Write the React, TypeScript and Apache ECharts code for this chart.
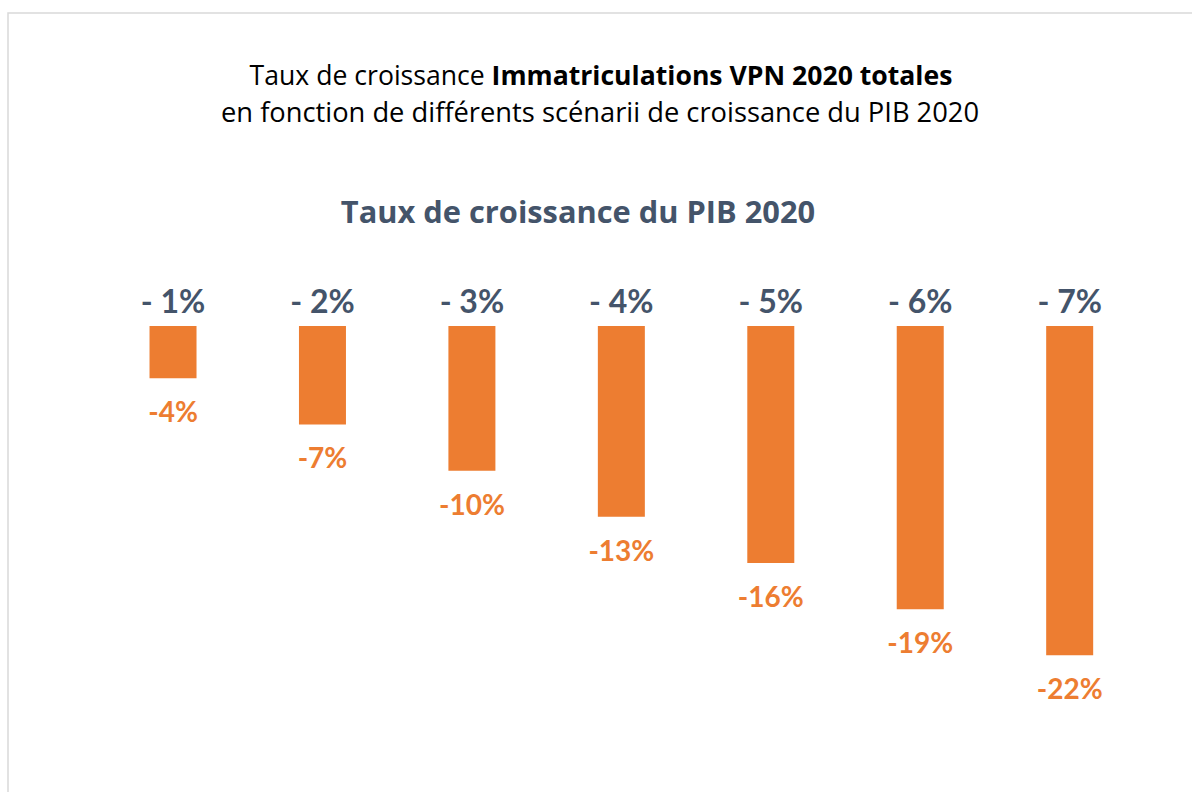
import React, { useEffect, useRef } from "react";
import * as echarts from "echarts";

const categories = ["- 1%", "- 2%", "- 3%", "- 4%", "- 5%", "- 6%", "- 7%"];
const values = [-4, -7, -10, -13, -16, -19, -22];
const titleLine1Regular = "Taux de croissance ";
const titleLine1Bold = "Immatriculations VPN 2020 totales";
const titleLine2 = "en fonction de différents scénarii de croissance du PIB 2020";
const subtitle = "Taux de croissance du PIB 2020";

const FONT = "Lato";
const TFONT = "Open Sans";
const ORANGE = "#ED7D31";
const SLATE = "#44546A";

export default function App() {
  const ref = useRef<HTMLDivElement>(null);
  useEffect(() => {
    if (!ref.current) return;
    const chart = echarts.init(ref.current, null, { renderer: "svg" });
    chart.setOption({
      animation: false,
      backgroundColor: "#ffffff",
      textStyle: { fontFamily: FONT },
      graphic: [
        {
          type: "rect",
          silent: true,
          shape: { x: 8, y: 13, width: 1300, height: 900 },
          style: { fill: "none", stroke: "#D9D9D9", lineWidth: 1.5 },
        },
        {
          type: "text",
          x: 601,
          y: 74.5,
          style: {
            text: "{r|" + titleLine1Regular + "}{b|" + titleLine1Bold + "}",
            align: "center",
            verticalAlign: "middle",
            rich: {
              r: { fontFamily: TFONT, fontSize: 26.6, fill: "#000000", fontWeight: "normal" },
              b: { fontFamily: TFONT, fontSize: 26.6, fill: "#000000", fontWeight: "bold" },
            },
          },
        },
        {
          type: "text",
          x: 600,
          y: 111.5,
          style: {
            text: titleLine2,
            align: "center",
            verticalAlign: "middle",
            fontFamily: TFONT,
            fontSize: 27.3,
            fill: "#000000",
          },
        },
        {
          type: "text",
          x: 578,
          y: 211,
          style: {
            text: subtitle,
            align: "center",
            verticalAlign: "middle",
            fontFamily: TFONT,
            fontSize: 30.8,
            fontWeight: "bold",
            fill: SLATE,
          },
        },
      ],
      grid: { left: 98.3, right: 47.6, top: 326, bottom: 136.7, containLabel: false },
      xAxis: {
        type: "category",
        position: "top",
        data: categories,
        axisLine: { show: false },
        axisTick: { show: false },
        axisLabel: {
          margin: 10,
          fontFamily: FONT,
          fontSize: 32,
          fontWeight: "bold",
          color: SLATE,
        },
      },
      yAxis: {
        type: "value",
        show: false,
        min: -22,
        max: -0.6,
        splitLine: { show: false },
      },
      series: [
        {
          type: "bar",
          data: values,
          barWidth: 47,
          clip: true,
          itemStyle: { color: ORANGE },
          label: {
            show: true,
            position: "bottom",
            distance: 19,
            formatter: (p: any) => p.value + "%",
            fontFamily: FONT,
            fontSize: 28,
            fontWeight: "bold",
            color: ORANGE,
          },
        },
      ],
    });
    return () => chart.dispose();
  }, []);
  return (
    <div
      ref={ref}
      style={{ position: "fixed", left: 0, top: 0, width: 1192, height: 792 }}
    />
  );
}
